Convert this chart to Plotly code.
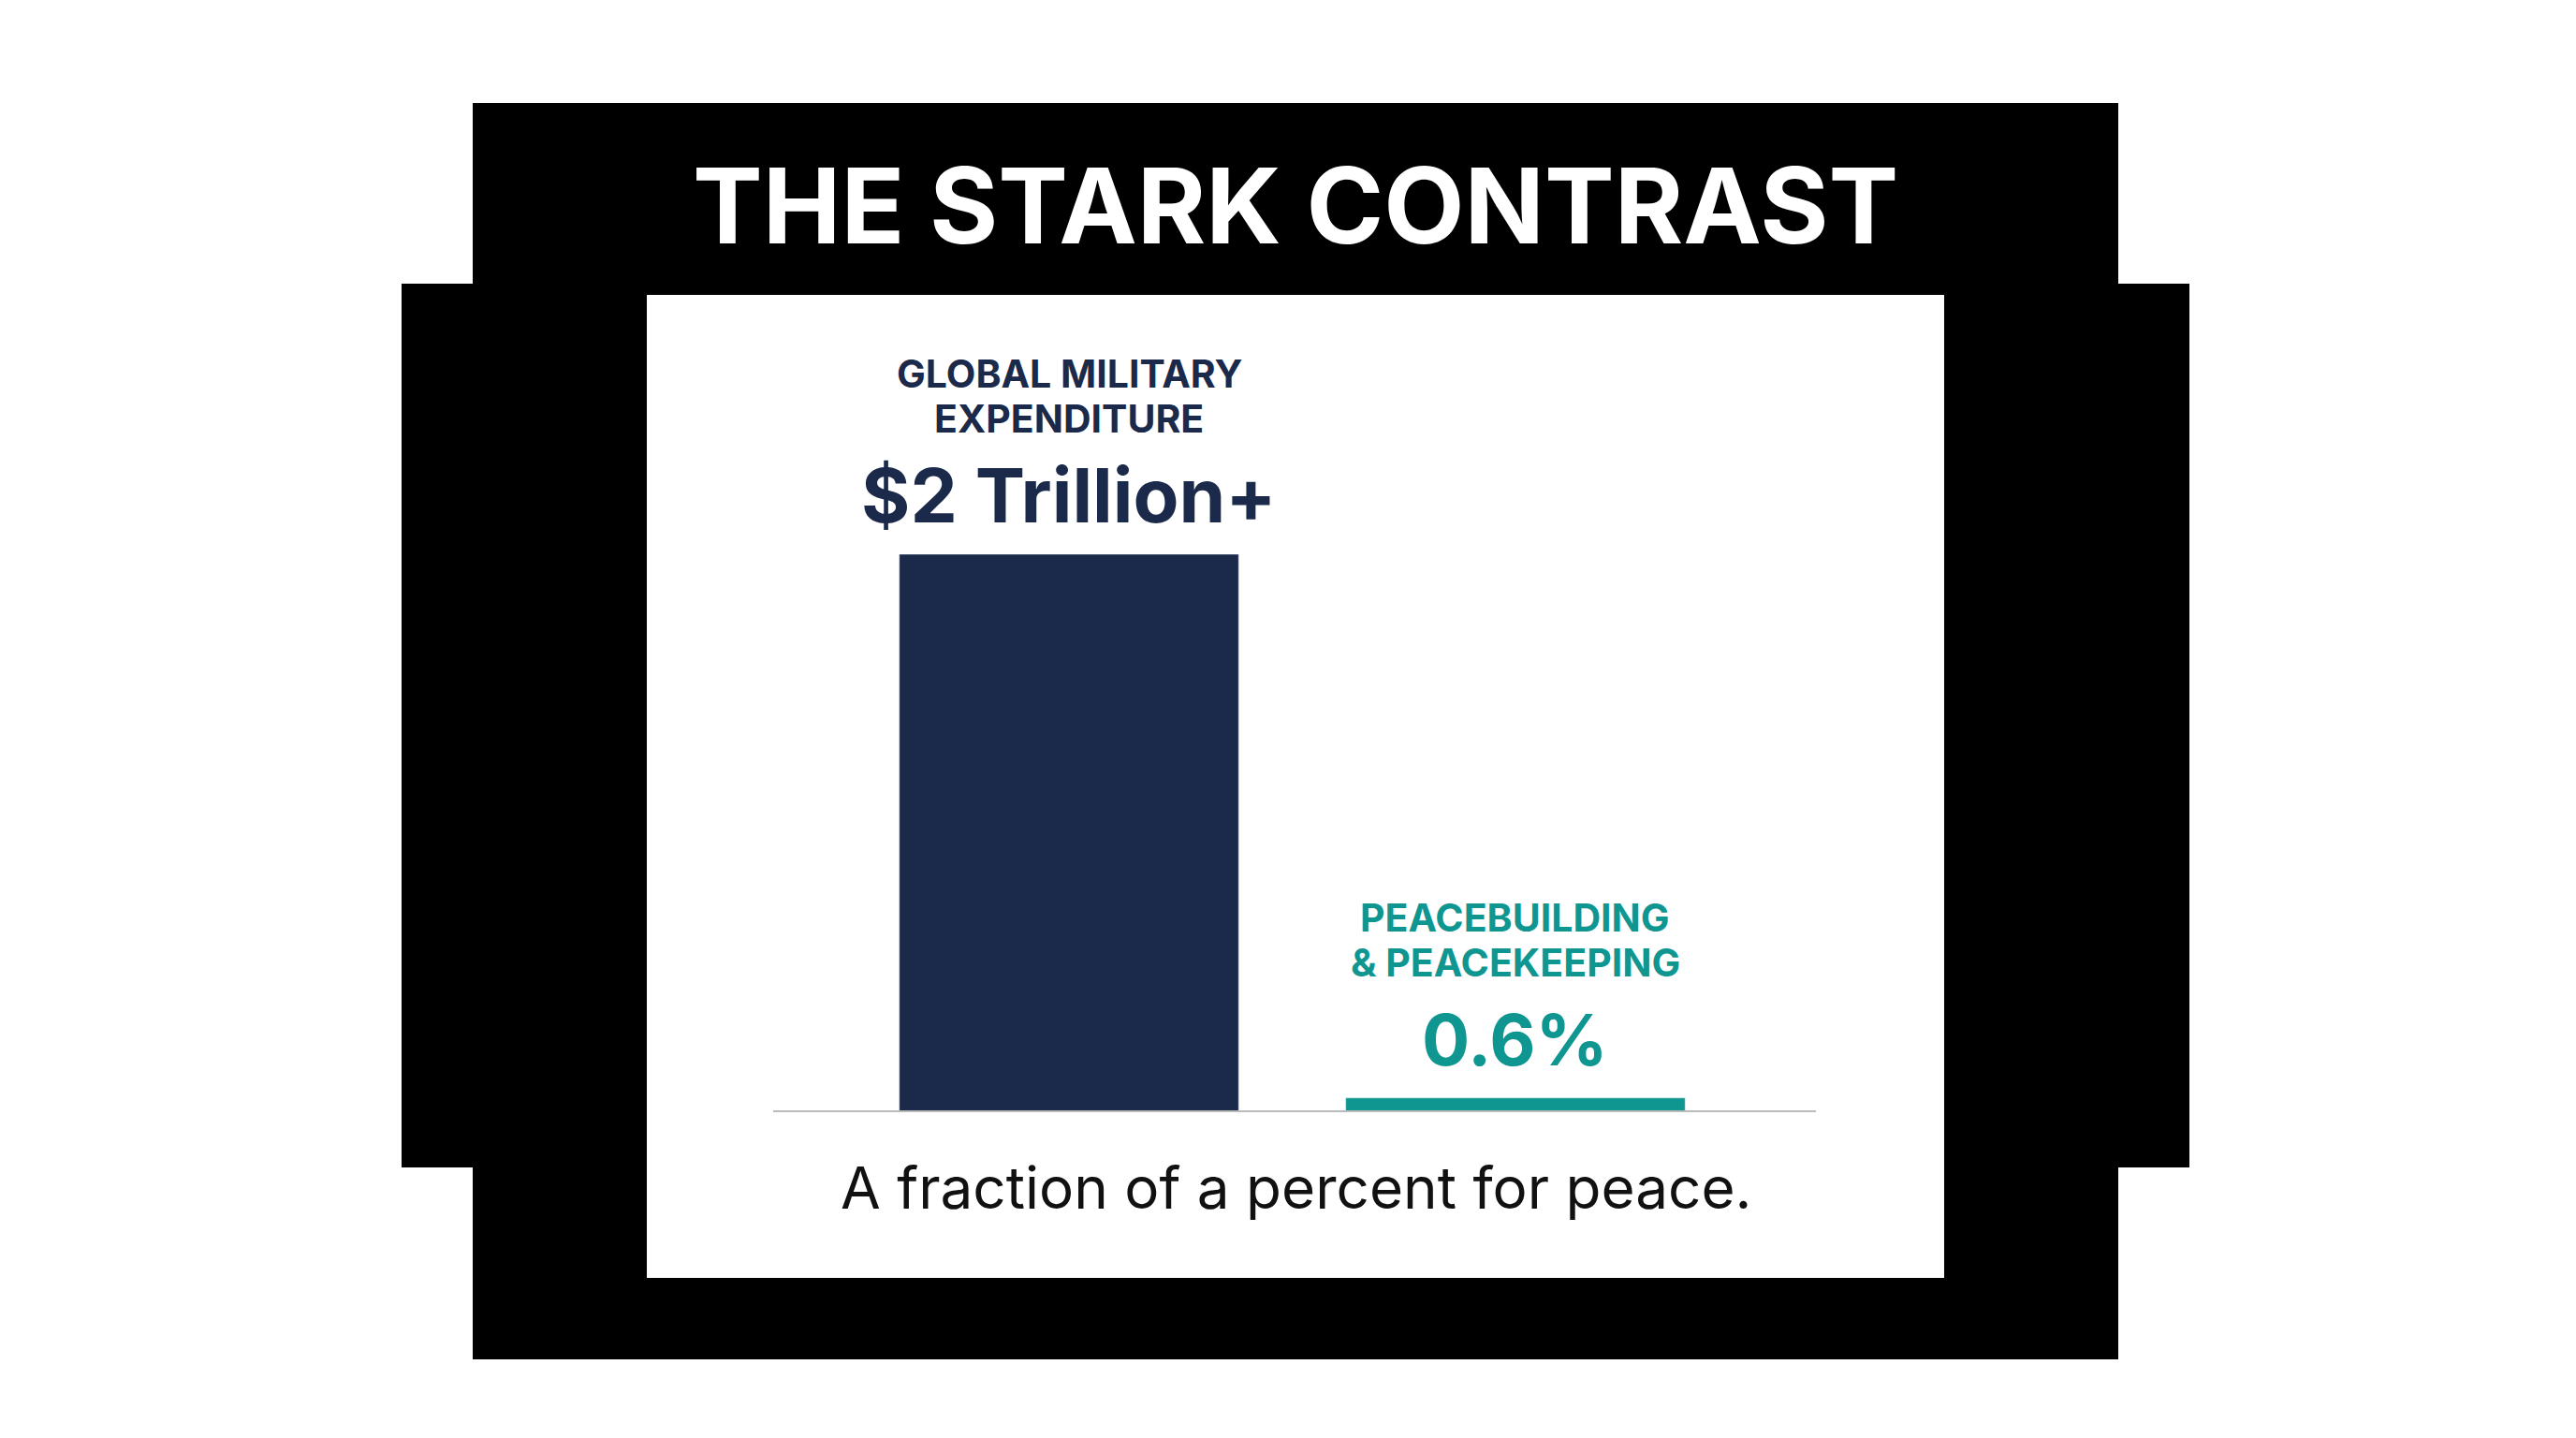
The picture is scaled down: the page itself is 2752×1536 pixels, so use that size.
import plotly.graph_objects as go

W, H = 2752, 1536

# chart data (bar heights, in % of the tallest bar)
categories = ['Global Military Expenditure', 'Peacebuilding & Peacekeeping']
bar_heights = [100, 2.4]
bar_colors = ['#1b2a4a', '#0f9690']
label_lines = [['GLOBAL MILITARY', 'EXPENDITURE'], ['PEACEBUILDING', '& PEACEKEEPING']]
value_labels = ['$2 Trillion+', '0.6%']


def px_x(p):
    return p / W


def px_y(p):
    return 1 - p / H


fig = go.Figure(go.Bar(
    x=[0, 1], y=bar_heights, marker_color=bar_colors, width=0.76,
    hovertext=categories, showlegend=False,
))

# black frame + white panel
shapes = [
    dict(x0=497, x1=2255, y0=102, y1=1444, fill='black'),
    dict(x0=421, x1=2331, y0=295, y1=1239, fill='black'),
    dict(x0=683, x1=2069, y0=307, y1=1357, fill='white'),
]
for s in shapes:
    fig.add_shape(type='rect', xref='paper', yref='paper', layer='below',
                  x0=px_x(s['x0']), x1=px_x(s['x1']), y0=px_y(s['y1']), y1=px_y(s['y0']),
                  fillcolor=s['fill'], line_width=0)

# baseline
fig.add_shape(type='line', xref='paper', yref='paper', layer='above',
              x0=px_x(818), x1=px_x(1932), y0=px_y(1179), y1=px_y(1179),
              line=dict(color='#bbbbbb', width=2))

font = 'Inter, Open Sans, sans-serif'
fig.add_annotation(text='<b>THE STARK CONTRAST</b>', xref='paper', yref='paper',
                   x=px_x(1376), y=px_y(211), yanchor='middle', showarrow=False,
                   font=dict(family=font, size=112, color='white'))

label_y = [[391, 439], [972, 1020]]
value_y = [521, 1102]
value_size = [80, 76]
for i in range(2):
    for line, yy in zip(label_lines[i], label_y[i]):
        fig.add_annotation(text=f'<b>{line}</b>', xref='x', yref='paper', x=i, y=px_y(yy),
                           yanchor='middle', showarrow=False,
                           font=dict(family=font, size=41, color=bar_colors[i]))
    fig.add_annotation(text=f'<b>{value_labels[i]}</b>', xref='x', yref='paper', x=i, y=px_y(value_y[i]),
                       yanchor='middle', showarrow=False,
                       font=dict(family=font, size=value_size[i], color=bar_colors[i]))

fig.add_annotation(text='A fraction of a percent for peace.', xref='paper', yref='paper',
                   x=px_x(1376), y=px_y(1260), yanchor='middle', showarrow=False,
                   font=dict(family=font, size=62, color='#111111'))

fig.update_layout(
    width=W, height=H, margin=dict(l=0, r=0, t=0, b=0),
    paper_bgcolor='white', plot_bgcolor='rgba(0,0,0,0)',
    xaxis=dict(domain=[px_x(818), px_x(1932)], range=[-0.6625, 1.673], visible=False),
    yaxis=dict(domain=[px_y(1179), px_y(584)], range=[0, 100], visible=False),
)

fig.write_html('out.html')
